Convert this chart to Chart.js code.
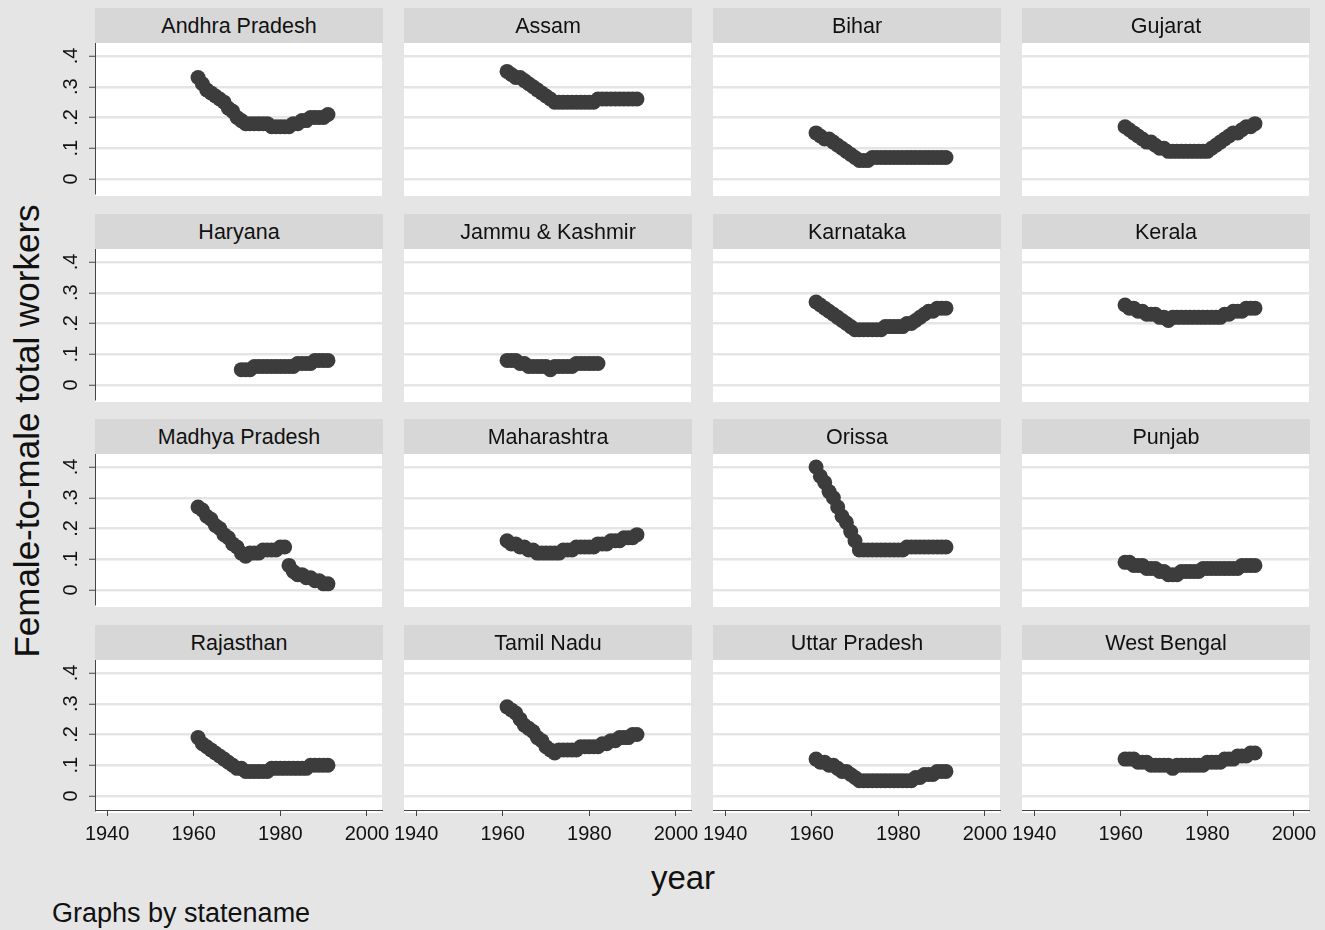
<!DOCTYPE html>
<html>
<head>
<meta charset="utf-8">
<script src="https://cdn.jsdelivr.net/npm/chart.js@4.4.1/dist/chart.umd.min.js"></script>
<style>
  body { margin: 0; width: 1325px; height: 930px; overflow: hidden; position: relative; background: #e5e5e5; font-family: "Liberation Sans", Arial, sans-serif; color: #111; }
  canvas { position: absolute; }
  .strip { position: absolute; height: 35px; line-height: 36px; background: #d7d7d7; text-align: center; font-size: 21.5px; z-index: 2; }
  .ytitle { position: absolute; left: 27px; top: 431px; font-size: 35px; white-space: nowrap; transform: translate(-50%, -50%) rotate(-90deg); }
  .xtitle { position: absolute; left: 683px; top: 878px; font-size: 33px; transform: translate(-50%, -50%); }
  .note { position: absolute; left: 52px; top: 913px; font-size: 27px; transform: translateY(-50%); }
</style>
</head>
<body>
<div class="ytitle">Female-to-male total workers</div>
<div class="xtitle">year</div>
<div class="note">Graphs by statename</div>
<script>
const YEARS = [1961, 1962, 1963, 1964, 1965, 1966, 1967, 1968, 1969, 1970, 1971, 1972, 1973, 1974, 1975, 1976,
  1977, 1978, 1979, 1980, 1981, 1982, 1983, 1984, 1985, 1986, 1987, 1988, 1989, 1990, 1991];

const Y_TICKS = [0, 0.1, 0.2, 0.3, 0.4];
const Y_TICK_LABELS = ['0', '.1', '.2', '.3', '.4'];
const X_TICKS = [1940, 1960, 1980, 2000];

const STATES = ['Andhra Pradesh', 'Assam', 'Bihar', 'Gujarat', 'Haryana', 'Jammu & Kashmir', 'Karnataka', 'Kerala',
  'Madhya Pradesh', 'Maharashtra', 'Orissa', 'Punjab', 'Rajasthan', 'Tamil Nadu', 'Uttar Pradesh', 'West Bengal'];

// female-to-male ratio of total workers, one value per year in YEARS
const andhraPradesh = [.33, .31, .29, .28, .27, .26, .25, .23, .22, .20, .19, .18, .18, .18, .18, .18, .18, .17, .17, .17, .17, .17, .18, .18, .19, .19, .20, .20, .20, .20, .21];
const assam = [.35, .34, .33, .33, .32, .31, .30, .29, .28, .27, .26, .25, .25, .25, .25, .25, .25, .25, .25, .25, .25, .26, .26, .26, .26, .26, .26, .26, .26, .26, .26];
const bihar = [.15, .14, .13, .13, .12, .11, .10, .09, .08, .07, .06, .06, .06, .07, .07, .07, .07, .07, .07, .07, .07, .07, .07, .07, .07, .07, .07, .07, .07, .07, .07];
const gujarat = [.17, .16, .15, .14, .13, .12, .12, .11, .10, .10, .09, .09, .09, .09, .09, .09, .09, .09, .09, .09, .10, .11, .12, .13, .14, .15, .15, .16, .17, .17, .18];
const haryana = [null, null, null, null, null, null, null, null, null, null, .05, .05, .05, .06, .06, .06, .06, .06, .06, .06, .06, .06, .06, .07, .07, .07, .07, .08, .08, .08, .08];
const jammuKashmir = [.08, .08, .08, .07, .07, .06, .06, .06, .06, .06, .05, .06, .06, .06, .06, .06, .07, .07, .07, .07, .07, .07, null, null, null, null, null, null, null, null, null];
const karnataka = [.27, .26, .25, .24, .23, .22, .21, .20, .19, .18, .18, .18, .18, .18, .18, .18, .19, .19, .19, .19, .19, .20, .20, .21, .22, .23, .24, .24, .25, .25, .25];
const kerala = [.26, .25, .25, .24, .24, .23, .23, .23, .22, .22, .21, .22, .22, .22, .22, .22, .22, .22, .22, .22, .22, .22, .22, .23, .23, .24, .24, .24, .25, .25, .25];
const madhyaPradesh = [.27, .26, .24, .23, .21, .20, .18, .17, .15, .14, .12, .11, .12, .12, .12, .13, .13, .13, .13, .14, .14, .08, .06, .05, .05, .04, .04, .03, .03, .02, .02];
const maharashtra = [.16, .15, .15, .14, .14, .13, .13, .12, .12, .12, .12, .12, .12, .13, .13, .13, .14, .14, .14, .14, .14, .15, .15, .15, .16, .16, .16, .17, .17, .17, .18];
const orissa = [.40, .37, .35, .32, .30, .27, .24, .22, .19, .16, .13, .13, .13, .13, .13, .13, .13, .13, .13, .13, .13, .14, .14, .14, .14, .14, .14, .14, .14, .14, .14];
const punjab = [.09, .09, .08, .08, .08, .07, .07, .07, .06, .06, .05, .05, .05, .06, .06, .06, .06, .06, .07, .07, .07, .07, .07, .07, .07, .07, .07, .08, .08, .08, .08];
const rajasthan = [.19, .17, .16, .15, .14, .13, .12, .11, .10, .09, .09, .08, .08, .08, .08, .08, .08, .09, .09, .09, .09, .09, .09, .09, .09, .09, .10, .10, .10, .10, .10];
const tamilNadu = [.29, .28, .27, .25, .23, .22, .21, .19, .18, .16, .15, .14, .15, .15, .15, .15, .15, .16, .16, .16, .16, .16, .17, .17, .18, .18, .19, .19, .19, .20, .20];
const uttarPradesh = [.12, .11, .11, .10, .10, .09, .08, .08, .07, .06, .05, .05, .05, .05, .05, .05, .05, .05, .05, .05, .05, .05, .05, .06, .06, .07, .07, .07, .08, .08, .08];
const westBengal = [.12, .12, .12, .11, .11, .11, .10, .10, .10, .10, .10, .09, .10, .10, .10, .10, .10, .10, .10, .11, .11, .11, .11, .12, .12, .12, .13, .13, .13, .14, .14];

const SERIES = [andhraPradesh, assam, bihar, gujarat, haryana, jammuKashmir, karnataka, kerala,
  madhyaPradesh, maharashtra, orissa, punjab, rajasthan, tamilNadu, uttarPradesh, westBengal];

// panel geometry
const COLS = 4;
const PLOT_W = 287, PLOT_H = 150, STRIP_H = 35;
const COL_X0 = 95, COL_STEP = 309;
const ROW_Y0 = 43, ROW_STEP = 205.67;
const Y_AXIS_W = 45, X_AXIS_H = 45, PAD = 30;
const X_MIN = 1937.2, X_MAX = 1937.2 + PLOT_W / 4.33;
const Y_MIN = -0.0455, Y_MAX = 0.4423;

const INK = '#111';
const AXIS = '#444';
const tickFont = { family: '"Liberation Sans", Arial, sans-serif', size: 20 };

const plotBg = {
  id: 'plotBg',
  beforeDraw(chart) {
    const { ctx, chartArea: a } = chart;
    ctx.save();
    ctx.fillStyle = '#fff';
    ctx.fillRect(a.left, a.top, a.right - a.left, a.bottom - a.top + 3);
    ctx.restore();
  }
};

function makePanel(i) {
  const col = i % COLS, row = Math.floor(i / COLS);
  const showY = col === 0, showX = row === 3;
  const plotLeft = COL_X0 + col * COL_STEP;
  const plotTop = Math.round(ROW_Y0 + row * ROW_STEP);
  const yw = showY ? Y_AXIS_W : 0, xh = showX ? X_AXIS_H : 0;

  const strip = document.createElement('div');
  strip.className = 'strip';
  strip.style.left = plotLeft + 'px';
  strip.style.top = (plotTop - STRIP_H) + 'px';
  strip.style.width = (PLOT_W + 1) + 'px';
  strip.textContent = STATES[i];
  document.body.appendChild(strip);

  const canvas = document.createElement('canvas');
  canvas.width = PAD + yw + PLOT_W + PAD;
  canvas.height = PAD + PLOT_H + xh + PAD;
  canvas.style.left = (plotLeft - yw - PAD) + 'px';
  canvas.style.top = (plotTop - PAD) + 'px';
  document.body.appendChild(canvas);

  const points = YEARS.map((yr, k) => ({ x: yr, y: SERIES[i][k] })).filter(p => p.y !== null);

  new Chart(canvas, {
    type: 'scatter',
    data: { datasets: [{ data: points, backgroundColor: '#3c3c3c', borderWidth: 0, pointRadius: 7.5, pointHoverRadius: 7.5 }] },
    plugins: [plotBg],
    options: {
      responsive: false,
      animation: false,
      devicePixelRatio: 1,
      layout: { padding: PAD },
      plugins: { legend: { display: false }, tooltip: { enabled: false } },
      scales: {
        x: {
          type: 'linear', min: X_MIN, max: X_MAX,
          afterBuildTicks: s => { s.ticks = X_TICKS.map(v => ({ value: v })); },
          afterFit: s => { s.height = xh; },
          ticks: { display: showX, autoSkip: false, maxRotation: 0, color: INK, font: tickFont, padding: 6, callback: v => String(v) },
          grid: { display: showX, drawOnChartArea: false, drawTicks: true, tickLength: 6, tickColor: AXIS, tickWidth: 1 },
          border: { display: showX, color: AXIS, width: 1 }
        },
        y: {
          min: Y_MIN, max: Y_MAX,
          afterBuildTicks: s => { s.ticks = Y_TICKS.map(v => ({ value: v })); },
          afterFit: s => { s.width = yw; },
          ticks: { display: showY, minRotation: 90, maxRotation: 90, crossAlign: 'center', padding: 9, color: INK, font: tickFont,
            callback: (v, idx) => Y_TICK_LABELS[idx] },
          grid: { color: '#e5e5e5', lineWidth: 2.5, drawTicks: showY, tickLength: 6, tickColor: AXIS, tickWidth: 1 },
          border: { display: showY, color: AXIS, width: 1 }
        }
      }
    }
  });
}

STATES.forEach((_, i) => makePanel(i));
</script>
</body>
</html>
